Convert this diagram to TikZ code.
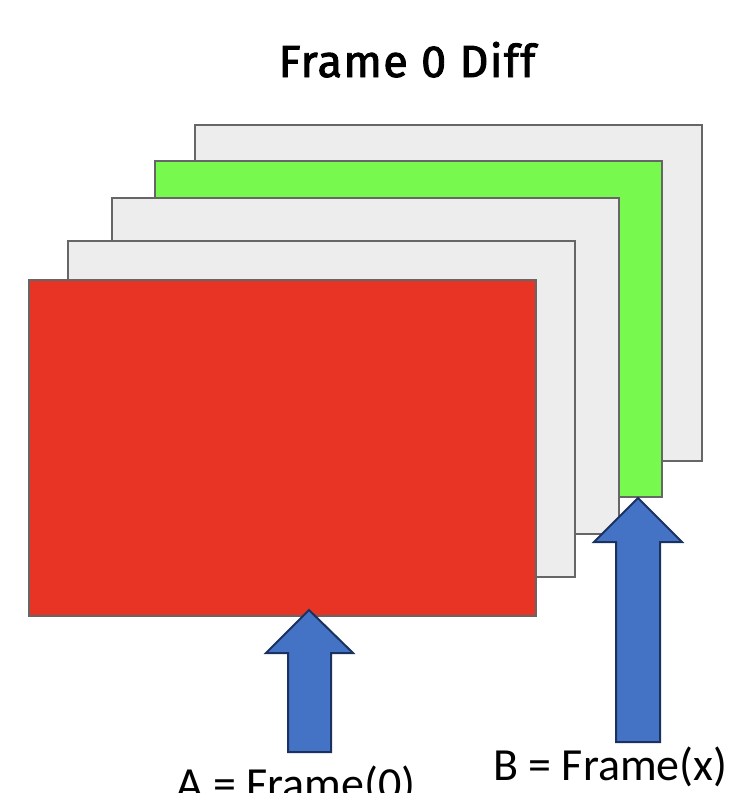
\documentclass[tikz,border=0pt]{standalone}
\usepackage{fontspec}
\setmainfont{Carlito}
\newfontfamily\titlefont{Fira Sans}[FakeBold=2, Ligatures=NoCommon, LetterSpace=3]
\definecolor{framegray}{HTML}{EDEDED}
\definecolor{frameedge}{HTML}{666666}
\definecolor{framegreen}{HTML}{77F94D}
\definecolor{framered}{HTML}{E83424}
\definecolor{arrowblue}{HTML}{4472C4}
\definecolor{arrowedge}{HTML}{1A3260}
\begin{document}
\begin{tikzpicture}[x=1pt,y=-1pt,
  frame/.style={draw=frameedge, line width=2pt, rectangle, inner sep=0pt,
                minimum width=507pt, minimum height=336pt},
  blockarrow/.style={draw=arrowedge, fill=arrowblue, line width=2pt, line join=miter},
  label/.style={inner sep=0pt, anchor=base west, font=\fontsize{46}{55}\selectfont}]
\useasboundingbox (0,0) rectangle (730,793);
\fill[white] (0,0) rectangle (730,793);

% title
\node[inner sep=0pt, anchor=base, font=\titlefont\fontsize{45}{54}\selectfont] (title) at (407,77) {Frame 0 Diff};

% stack of frames, back to front
\node[frame, fill=framegray]  (f4) at (448.5,292.5) {};
\node[frame, fill=framegreen] (f3) at (408.5,329) {};
\node[frame, fill=framegray]  (f2) at (365,366) {};
\node[frame, fill=framegray]  (f1) at (321.5,409) {};
\node[frame, fill=framered]   (f0) at (282.5,447.75) {};

% block arrow pointing at frame 0
\coordinate (tipA) at (309,610);
\draw[blockarrow] (tipA) -- (353,653) -- (331,653) -- (331,752) -- (288,752)
  -- (288,653) -- (266,653) -- cycle;

% block arrow pointing at frame x
\coordinate (tipB) at (638,498);
\draw[blockarrow] (tipB) -- (682,542) -- (660,542) -- (660,742) -- (616,742)
  -- (616,542) -- (594,542) -- cycle;

% labels
\node[label] (labA) at (176,799) {A = Frame(0)};
\node[label] (labB) at (493,780) {B = Frame(x)};
\end{tikzpicture}
\end{document}
